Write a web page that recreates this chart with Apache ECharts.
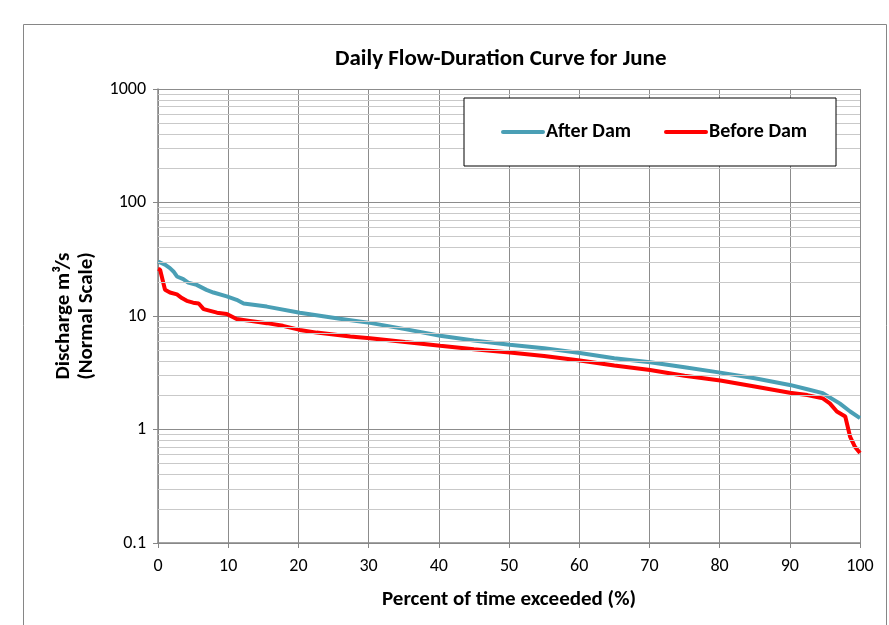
<!DOCTYPE html>
<html>
<head>
<meta charset="utf-8">
<script src="https://cdn.jsdelivr.net/npm/echarts@6/dist/echarts.min.js"></script>
<style>
* {
  padding: 0;
  margin: 0;
}
body {
  background: #fff;
}
</style>
</head>
<body>
<div id="chart" style="width: 889px; height: 625px"></div>
<script>
// percent of time exceeded (%) and discharge (m3/s)
var afterPct = [0, 1, 1.7, 2.2, 2.7, 3.6, 4.3, 5.5, 6.9, 7.9, 9.8, 11.2, 12.2, 15.5, 20.2, 25.9, 30.2, 35.2, 40.2, 45, 50.1, 55, 60.1, 65, 70.1, 75, 80.1, 85, 90, 92.5, 94.7, 97.1, 98.6, 100];
var afterQ = [30.2, 28.3, 26.4, 24.7, 22.3, 21.1, 19.7, 18.8, 17.0, 16.1, 14.9, 13.9, 12.9, 12.1, 10.7, 9.45, 8.7, 7.66, 6.7, 6.08, 5.57, 5.21, 4.73, 4.25, 3.92, 3.54, 3.17, 2.83, 2.47, 2.26, 2.09, 1.70, 1.44, 1.26];

var beforePct = [0, 0.3, 1.0, 1.7, 2.7, 3.4, 4.1, 5.0, 5.8, 6.5, 8.4, 9.8, 11.2, 13.1, 15.5, 17.8, 20.2, 22.6, 27.4, 30.2, 35.2, 40.2, 45, 50.1, 55, 60.1, 65, 70.1, 75, 80.1, 85, 90, 92.5, 94.7, 95.7, 96.7, 97.9, 98.6, 99.3, 100];
var beforeQ = [26.0, 25.6, 17.0, 16.1, 15.5, 14.4, 13.6, 13.1, 12.9, 11.5, 10.7, 10.4, 9.4, 9.06, 8.65, 8.19, 7.54, 7.14, 6.6, 6.38, 5.89, 5.46, 5.1, 4.76, 4.45, 4.05, 3.66, 3.35, 2.98, 2.70, 2.39, 2.11, 2.01, 1.88, 1.70, 1.44, 1.30, 0.86, 0.70, 0.62];

var xTicks = [0, 10, 20, 30, 40, 50, 60, 70, 80, 90, 100];
var yTicks = ["0.1", "1", "10", "100", "1000"];
var minorTicks = [0.2, 0.3, 0.4, 0.5, 0.6, 0.7, 0.8, 0.9,
  2, 3, 4, 5, 6, 7, 8, 9,
  20, 30, 40, 50, 60, 70, 80, 90,
  200, 300, 400, 500, 600, 700, 800, 900];

var afterColor = "#4a9fb5";
var beforeColor = "#ff0000";
var font = "Carlito, Calibri, 'Liberation Sans', sans-serif";
var legendFont = "bold 20px " + font;

function pairs(xs, ys) {
  return xs.map(function (x, i) {
    return [x, ys[i]];
  });
}

// legend box drawn by hand (the built-in one struck a line through the text)
function legendItem(x, name, color) {
  return [
    {
      type: "line",
      z: 101,
      shape: { x1: x, y1: 132, x2: x + 40, y2: 132 },
      style: { stroke: color, lineWidth: 4, lineCap: "round" },
    },
    {
      type: "text",
      z: 101,
      x: x + 43,
      y: 132,
      style: { text: name, font: legendFont, fill: "#000", verticalAlign: "middle" },
    },
  ];
}

var chart = echarts.init(document.getElementById("chart"));
chart.setOption({
  animation: false,
  backgroundColor: "#fff",
  textStyle: { fontFamily: font },
  graphic: [
    {
      type: "rect",
      left: 21,
      top: 22,
      shape: { width: 863, height: 640 },
      style: { fill: "none", stroke: "#868686", lineWidth: 1 },
      silent: true,
      z: -10,
    },
    {
      type: "rect",
      z: 100,
      shape: { x: 464, y: 98, width: 372, height: 68 },
      style: { fill: "#fff", stroke: "#000", lineWidth: 1 },
    },
  ]
    .concat(legendItem(503, "After Dam", afterColor))
    .concat(legendItem(666, "Before Dam", beforeColor)),
  title: {
    text: "Daily Flow-Duration Curve for June",
    left: 330,
    top: 43,
    textStyle: { fontFamily: font, fontSize: 23, fontWeight: "bold", color: "#000" },
  },
  legend: {
    show: false,
  },
  grid: {
    left: 158,
    right: 29,
    top: 89,
    bottom: 82,
  },
  xAxis: {
    type: "value",
    min: 0,
    max: 100,
    interval: 10,
    name: "Percent of time exceeded (%)",
    nameLocation: "middle",
    nameGap: 46,
    nameTextStyle: { fontFamily: font, fontSize: 21, fontWeight: "bold", color: "#000" },
    axisLine: { show: true, lineStyle: { color: "#868686", width: 1.5 } },
    axisTick: { show: true, length: 5, lineStyle: { color: "#868686" } },
    axisLabel: {
      color: "#000",
      fontSize: 18,
      margin: 14,
      formatter: function (v) {
        return xTicks.indexOf(v) >= 0 ? String(v) : "";
      },
    },
    splitLine: { show: true, lineStyle: { color: "#8c8c8c", width: 1 } },
  },
  yAxis: {
    type: "log",
    logBase: 10,
    min: 0.1,
    max: 1000,
    name: "Discharge m³/s\n(Normal Scale)",
    nameLocation: "middle",
    nameGap: 59,
    nameTextStyle: { fontFamily: font, fontSize: 21, fontWeight: "bold", color: "#000", lineHeight: 23 },
    axisLine: { show: true, lineStyle: { color: "#868686", width: 1.5 } },
    axisTick: { show: true, length: 5, lineStyle: { color: "#868686" } },
    axisLabel: {
      color: "#000",
      fontSize: 18,
      margin: 12,
      formatter: function (v) {
        var s = String(+v.toPrecision(3));
        return yTicks.indexOf(s) >= 0 ? s : "";
      },
    },
    splitLine: { show: true, lineStyle: { color: "#8c8c8c", width: 1 } },
  },
  series: [
    {
      name: "minor",
      type: "line",
      data: [],
      z: 1,
      silent: true,
      markLine: {
        silent: true,
        symbol: "none",
        label: { show: false },
        lineStyle: { color: "#c9c9c9", type: "solid", width: 1 },
        data: minorTicks.map(function (v) {
          return { yAxis: v };
        }),
      },
    },
    {
      name: "After Dam",
      type: "line",
      data: pairs(afterPct, afterQ),
      showSymbol: false,
      z: 3,
      itemStyle: { color: afterColor },
      lineStyle: { width: 4, color: afterColor },
    },
    {
      name: "Before Dam",
      type: "line",
      data: pairs(beforePct, beforeQ),
      showSymbol: false,
      z: 4,
      itemStyle: { color: beforeColor },
      lineStyle: { width: 4, color: beforeColor },
    },
  ],
});
</script>
</body>
</html>
